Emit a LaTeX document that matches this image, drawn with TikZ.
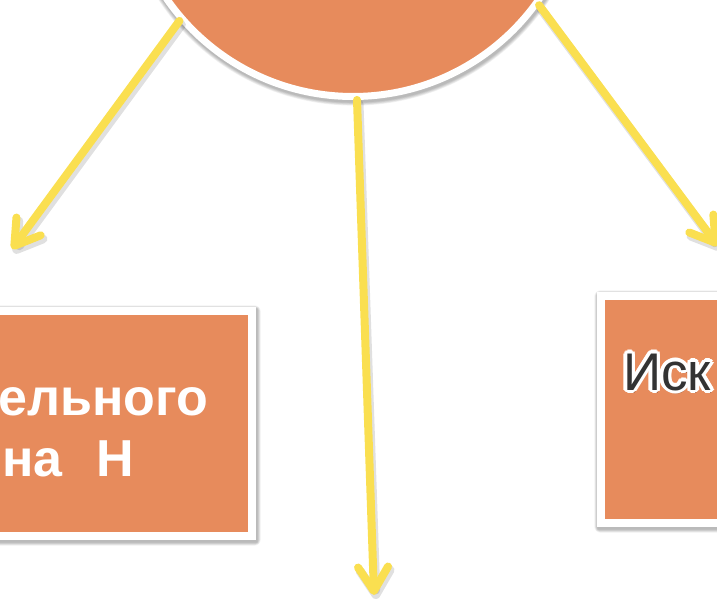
\documentclass[tikz,border=0pt]{standalone}
\usepackage{fontspec}
\setmainfont{Liberation Sans}
\usetikzlibrary{arrows.meta,calc,backgrounds}
\definecolor{org}{RGB}{231,139,92}
\definecolor{ylw}{RGB}{250,223,80}
\tikzset{
 shp/.style={fill=org, draw=white, line width=8pt, inner sep=0pt},
 arr/.style={draw=ylw, line width=8pt, line cap=round, -{Straight Barb[length=24pt,width=30pt,round]}},
 arrsh/.style={draw=black, opacity=0.12, line width=9pt, line cap=round,
   -{Straight Barb[length=24pt,width=30pt,round]}, transform canvas={shift={(2pt,-4pt)}}},
 lbl/.style={text=white, font=\bfseries\fontsize{52}{61}\selectfont, inner sep=0pt, anchor=base west},
 rl/.style={font=\fontsize{53}{60}\selectfont, inner sep=0pt, anchor=base west},
 shd/.style={fill=black, opacity=0.05},
}
\begin{document}
\begin{tikzpicture}[x=1pt,y=-1pt]
\useasboundingbox (0,0) rectangle (717,599);
\clip (0,0) rectangle (717,599);
% shapes
\node[shp, minimum width=402pt, minimum height=225pt] (L) at (51,423.5) {};
\node[shp, minimum width=300pt, minimum height=227pt] (R) at (751,409.5) {};
\node[shp, circle, line width=7pt, minimum size=453pt] (c) at (353,-130) {};
% soft shadows
\begin{scope}[on background layer]
\foreach \k in {1,...,6} {
  \fill[shd, rounded corners=\k pt] ($(L.north west)+(1-\k*0.6,2-\k*0.6)$) rectangle ($(L.south east)+(1+\k*0.6,2+\k*0.6)$);
  \fill[shd, rounded corners=\k pt] ($(R.north west)+(1-\k*0.6,2-\k*0.6)$) rectangle ($(R.south east)+(1+\k*0.6,2+\k*0.6)$);
  \fill[shd] ($(c.center)+(1,2)$) circle ({230+\k*0.6});
}
\end{scope}
% arrow ends
\coordinate (tL) at (12,249);
\coordinate (tM) at (374,595);
\coordinate (tR) at (718,246);
% arrows
\draw[arrsh] (c.221) -- (tL);
\draw[arrsh] (c.271) -- (tM);
\draw[arrsh] (c.324) -- (tR);
\draw[arr] (c.221) -- (tL);
\draw[arr] (c.271) -- (tM);
\draw[arr] (c.324) -- (tR);
% left text
\node[lbl] (t1) at (-2,415) {ельного};
\node[lbl] (t2) at (2,476) {на\hspace{34pt}H};
% right outlined text
\node[rl, text=black, opacity=0.3] (sh) at (624,393) {Иск};
\foreach \a in {0,30,...,330}
  \node[rl, text=white] (o\a) at ($(623,390)+(\a:3.4)$) {Иск};
\node[rl, text=black!80] (t3) at (623,390) {Иск};
\end{tikzpicture}
\end{document}
